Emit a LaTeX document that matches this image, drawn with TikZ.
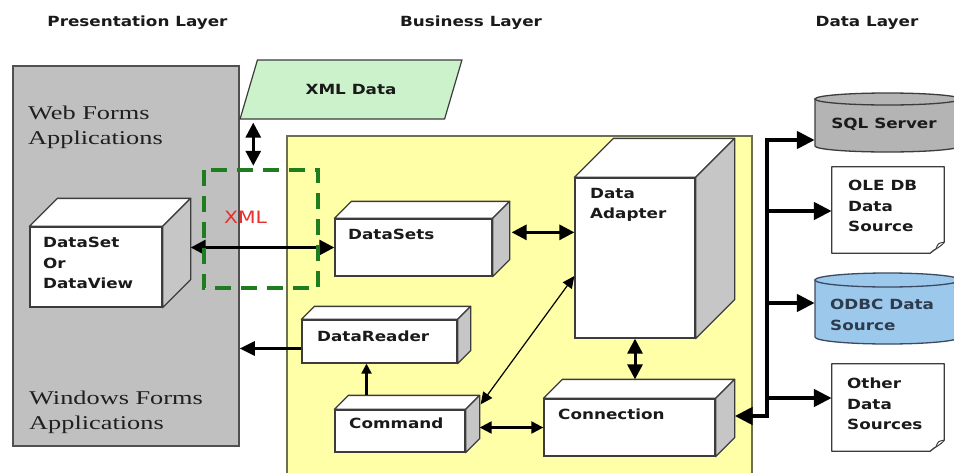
\documentclass[tikz,border=0pt]{standalone}
\usepackage{fontspec}
\setmainfont{DejaVu Sans}
\newfontfamily\lblfont[FakeStretch=1.2]{DejaVu Sans}
\newfontfamily\apfont[FakeStretch=1.35]{Liberation Serif}
\usetikzlibrary{arrows.meta,calc,fit,shapes.geometric}

\definecolor{panelgray}{HTML}{C0C0C0}
\definecolor{edge}{HTML}{3C3C3C}
\definecolor{sidegray}{HTML}{C6C6C6}
\definecolor{bizyellow}{HTML}{FFFFA8}
\definecolor{bizedge}{HTML}{6E6E50}
\definecolor{xmlgreen}{HTML}{CCF2CC}
\definecolor{dashgreen}{HTML}{1E7D1E}
\definecolor{sqlgray}{HTML}{B4B4B4}
\definecolor{odbcblue}{HTML}{9CC8EC}
\definecolor{odbcedge}{HTML}{3A4A60}
\definecolor{xmlred}{HTML}{E8302C}
\definecolor{ink}{HTML}{1A1A1A}

\newcommand\boxfaces[2]{%
  \filldraw[face, fill=white] (#1.north west) -- ++(#2,-#2) -- ($(#1.north east)+(#2,-#2)$) -- (#1.north east) -- cycle;
  \filldraw[face, fill=sidegray] (#1.north east) -- ($(#1.north east)+(#2,-#2)$) -- ($(#1.south east)+(#2,-#2)$) -- (#1.south east) -- cycle;
  \coordinate (#1-b) at ($(#1.north east)+(#2,-#2)$);
}

\begin{document}
\begin{tikzpicture}[x=1pt,y=-1pt,
  lbl/.style={font=\lblfont\bfseries\fontsize{14}{20.5}\selectfont, text=ink, inner sep=0pt},
  lblm/.style={lbl, align=left},
  apptext/.style={font=\apfont\fontsize{19.5}{25}\selectfont, text=black!88, align=left, inner sep=0pt},
  panel/.style={draw=edge!90, fill=panelgray, line width=1.5pt, inner sep=0pt},
  biz/.style={draw=bizedge, fill=bizyellow, line width=1.5pt, inner sep=0pt},
  front/.style={draw=edge, fill=white, line width=1.3pt, inner sep=0pt},
  face/.style={draw=edge, line width=1.3pt, line join=round},
  hold/.style={inner sep=0pt},
  dbl/.style={{Triangle[length=15pt,width=15pt]}-{Triangle[length=15pt,width=15pt]}, line width=3pt},
  middbl/.style={{Triangle[length=12pt,width=12pt]}-{Triangle[length=12pt,width=12pt]}, line width=2.2pt},
  thindbl/.style={{Triangle[length=12pt,width=11pt]}-{Triangle[length=12pt,width=11pt]}, line width=1.2pt},
  arr/.style={-{Triangle[length=15pt,width=14pt]}, line width=3pt},
  smallarr/.style={-{Triangle[length=10pt,width=10pt]}, line width=2.2pt},
  bus/.style={{Triangle[length=18pt,width=17pt]}-{Triangle[length=18pt,width=17pt]}, line width=4.5pt, line join=miter},
  busarr/.style={-{Triangle[length=18pt,width=17pt]}, line width=4.5pt},
  dashbox/.style={draw=dashgreen, line width=3.5pt, dash pattern=on 16pt off 10pt},
  doc/.style={draw=edge, fill=white, line width=1.3pt, line join=round},
  cyl/.style={line width=1.3pt}
]
\clip (0,0) rectangle (954,472);
\fill[white] (0,0) rectangle (954,472);

% headers
\node[lbl, anchor=base] (hp) at (137.5,26) {Presentation Layer};
\node[lbl, anchor=base] (hb) at (471,26) {Business Layer};
\node[lbl, anchor=base] (hd) at (867,26) {Data Layer};

% presentation panel
\node[panel, fit={(13,66) (239,446)}] (pres) {};
\node[apptext, anchor=north west] (web) at (28,106) {Web Forms\\Applications};
\node[apptext, anchor=north west] (win) at (29,391) {Windows Forms\\Applications};

% business panel
\node[biz, fit={(287,136) (752,492)}] (bizp) {};

% XML data
\node[trapezium, trapezium left angle=51, trapezium right angle=129, trapezium stretches=true,
      minimum width=222pt, minimum height=59pt, draw=edge, fill=xmlgreen, line width=1.2pt,
      lbl, inner sep=0pt] (xml) at (351,89.5) {XML Data};

% dashed XML frame (holder)
\node[hold, fit={(204,170) (318,288)}] (xmlbox) {};

% 3D boxes
\node[front, fit={(30,227) (162,307)}] (ds) {}; \boxfaces{ds}{28}
\node[lblm, anchor=north west] (dsT) at (43,237) {DataSet\\Or\\DataView};

\node[front, fit={(335,219) (492,276)}] (dsets) {}; \boxfaces{dsets}{17}
\node[lbl, anchor=base west] (dsetsT) at (348,239) {DataSets};

\node[front, fit={(575,178) (695,338)}] (adp) {}; \boxfaces{adp}{39}
\node[lblm, anchor=north west] (adpT) at (590,188) {Data\\Adapter};

\node[front, fit={(302,320) (457,363)}] (rdr) {}; \boxfaces{rdr}{13}
\node[lbl, anchor=base west] (rdrT) at (317,341) {DataReader};

\node[front, fit={(335,410) (465,452)}] (cmd) {}; \boxfaces{cmd}{14}
\node[lbl, anchor=base west] (cmdT) at (349,428) {Command};

\node[front, fit={(544,399) (715,456)}] (conn) {}; \boxfaces{conn}{19}
\node[lbl, anchor=base west] (connT) at (558,419) {Connection};

% data sources
\node[hold, fit={(815,93) (960,152)}] (sql) {};
\filldraw[cyl, draw=edge, fill=sqlgray] (815,99) -- (815,146) arc[start angle=180, end angle=360, x radius=72.5pt, y radius=6pt] -- (960,99) -- cycle;
\filldraw[cyl, draw=edge, fill=sqlgray] (887.5,99) ellipse [x radius=72.5pt, y radius=6pt];
\node[lbl, anchor=base] (sqlT) at (884,128) {SQL Server};

\node[hold, fit={(832,167) (944,253)}] (ole) {};
\filldraw[doc] (ole.north west) -- (ole.north east) -- ($(ole.south east)+(0,-11)$)
  .. controls ($(ole.south east)+(-4,-6)$) and ($(ole.south east)+(-10,-4)$) .. ($(ole.south east)+(-14,0)$)
  -- (ole.south west) -- cycle;
\draw[doc, line width=1pt] ($(ole.south east)+(0,-11)$) .. controls ($(ole.south east)+(-6,-10)$) .. ($(ole.south east)+(-8,-5)$);
\node[lblm, anchor=north west] (oleT) at (848,180) {OLE DB\\Data\\Source};

\node[hold, fit={(815,273) (960,344)}] (odbc) {};
\filldraw[cyl, draw=odbcedge, fill=odbcblue] (815,280) -- (815,337) arc[start angle=180, end angle=360, x radius=72.5pt, y radius=7pt] -- (960,280) -- cycle;
\filldraw[cyl, draw=odbcedge, fill=odbcblue] (887.5,280) ellipse [x radius=72.5pt, y radius=7pt];
\node[lblm, anchor=north west, text=odbcedge!80!black] (odbcT) at (830,299) {ODBC Data\\Source};

\node[hold, fit={(832,364) (944,451)}] (oth) {};
\filldraw[doc] (oth.north west) -- (oth.north east) -- ($(oth.south east)+(0,-11)$)
  .. controls ($(oth.south east)+(-4,-6)$) and ($(oth.south east)+(-10,-4)$) .. ($(oth.south east)+(-14,0)$)
  -- (oth.south west) -- cycle;
\draw[doc, line width=1pt] ($(oth.south east)+(0,-11)$) .. controls ($(oth.south east)+(-6,-10)$) .. ($(oth.south east)+(-8,-5)$);
\node[lblm, anchor=north west] (othT) at (847,378) {Other\\Data\\Sources};

% connectors
\coordinate (xa) at ($(xml.bottom left corner)+(14,3)$);
\draw[dbl, shorten >=4pt] (xa) -- (xa |- xmlbox.north);

\draw[dbl] (ds-b |- dsets.west) -- (dsets.west);

\coordinate (d3) at ($(dsets-b)+(2,31)$);
\draw[dbl] (d3) -- (d3 -| adp.west);

\coordinate (d4a) at ($(cmd-b)+(1,9)$);
\coordinate (d4b) at ($(adp.west)+(0,18)$);
\draw[thindbl] (d4a) -- (d4b);

\draw[middbl] (cmd-b |- conn.west) -- (conn.west);

\draw[dbl] (adp.south) -- (adp.south |- conn-b);

\coordinate (d7) at ($(rdr.south)+(-13,0)$);
\draw[smallarr] (d7 |- cmd-b) -- (d7);

\coordinate (d8) at ($(rdr.west)+(0,7)$);
\draw[arr] (d8) -- (d8 -| pres.east);

% bus
\coordinate (b1) at (767,140);
\coordinate (b2) at (767,211);
\coordinate (b3) at (767,303);
\coordinate (b4) at (767,398);
\coordinate (b5) at (767,416);
\draw[bus] (b5 -| conn-b) -- (b5) -- (b1) -- (b1 -| sql.west);
\draw[busarr] (b2) -- (b2 -| ole.west);
\draw[busarr] (b3) -- (b3 -| odbc.west);
\draw[busarr] (b4) -- (b4 -| oth.west);

% dashed XML frame and label
\draw[dashbox] (xmlbox.north west) rectangle (xmlbox.south east);
\node[font=\lblfont\fontsize{17}{20}\selectfont, text=xmlred, inner sep=0pt, anchor=base] (xmlT) at (245.5,223) {XML};
\end{tikzpicture}
\end{document}
